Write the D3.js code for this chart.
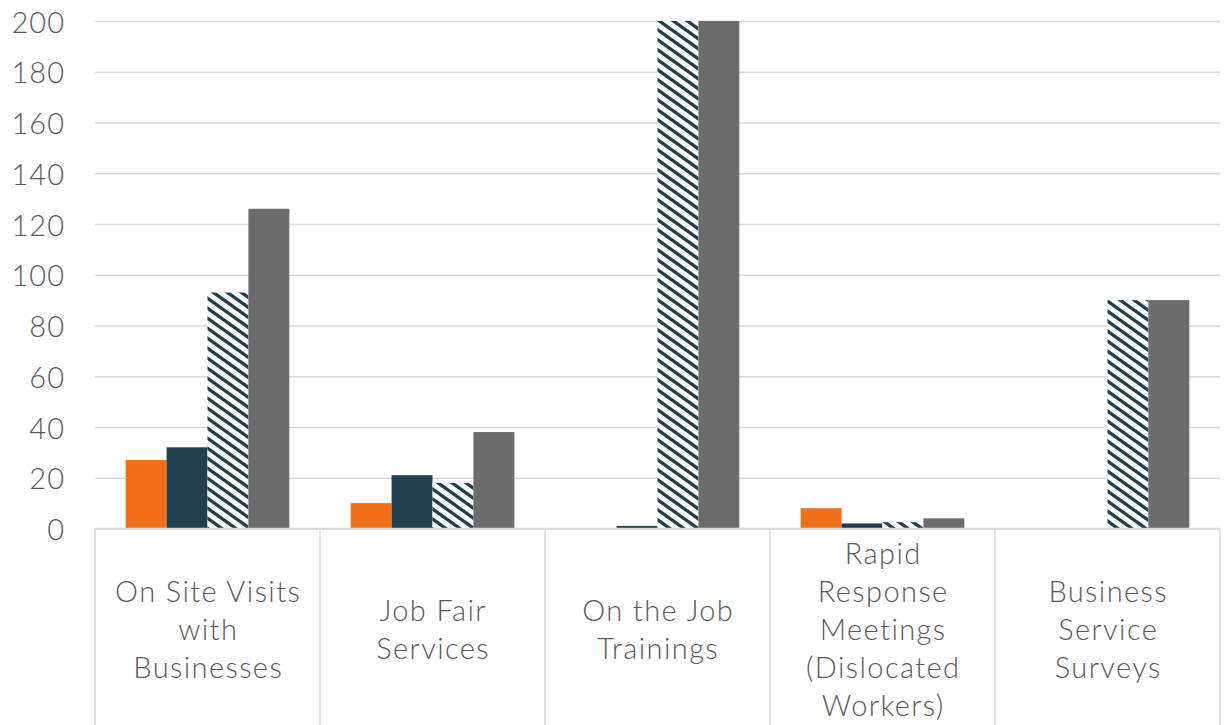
<!DOCTYPE html>
<html>
<head>
<meta charset="utf-8">
<script src="https://cdn.jsdelivr.net/npm/d3@7"></script>
<style>
  html, body { margin: 0; padding: 0; background: #fff; }
  svg { display: block; }
  text { font-family: "Lato", "Open Sans", sans-serif; font-weight: 300; fill: #595959; }
</style>
</head>
<body>
<svg id="chart" width="1226" height="725"></svg>
<script>
// Categories (label lines) and the four series
const categories = [
  ["On Site Visits", "with", "Businesses"],
  ["Job Fair", "Services"],
  ["On the Job", "Trainings"],
  ["Rapid", "Response", "Meetings", "(Dislocated", "Workers)"],
  ["Business", "Service", "Surveys"]
];
const seriesNames = ["s1", "s2", "s3", "s4"];
const seriesA = [27, 10, 0, 8, 0];
const seriesB = [32, 21, 1, 2, 0];
const seriesC = [93, 18, 200, 2.5, 90];
const seriesD = [126, 38, 200, 4, 90];
const yTicks = [0, 20, 40, 60, 80, 100, 120, 140, 160, 180, 200];

const series = [seriesA, seriesB, seriesC, seriesD];
const fills = ["#F07019", "#213F4C", "url(#hatch)", "#6C6C6C"];

const W = 1226, H = 725;
const plotL = 95, plotR = 1220, plotT = 21, plotB = 528.5;

const svg = d3.select("#chart");

// Diagonal stripe fill for the third series
const defs = svg.append("defs");
const pat = defs.append("pattern")
  .attr("id", "hatch")
  .attr("patternUnits", "userSpaceOnUse")
  .attr("width", 14).attr("height", 10);
pat.append("rect").attr("width", 14).attr("height", 10).attr("fill", "#fff");
[-10, 0, 10].forEach(dy => {
  pat.append("path")
    .attr("d", `M-14,${-10 + dy} L28,${20 + dy}`)
    .attr("stroke", "#213F4C")
    .attr("stroke-width", 3.4);
});

const catIdx = categories.map((d, i) => i);
const x = d3.scaleBand().domain(catIdx).range([plotL, plotR]).padding(0);
const xs = d3.scaleBand().domain(seriesNames).range([0, x.bandwidth()])
  .paddingInner(0).paddingOuter(0.75);
const y = d3.scaleLinear().domain([0, 200]).range([plotB, plotT]);

// Horizontal gridlines
const yAxis = d3.axisLeft(y).tickValues(yTicks).tickSize(-(plotR - plotL)).tickFormat("");
const gy = svg.append("g").attr("transform", `translate(${plotL},0)`).call(yAxis);
gy.select(".domain").remove();
gy.selectAll(".tick line").attr("stroke", "#D9D9D9").attr("stroke-width", 1.5);

// Y tick labels
svg.append("g").selectAll("text").data(yTicks).join("text")
  .attr("x", 65).attr("y", d => y(d))
  .attr("text-anchor", "end").attr("dominant-baseline", "central")
  .style("font-size", "29px").style("letter-spacing", "1px")
  .text(d => d);

// Bars
const clip = defs.append("clipPath").attr("id", "plotclip");
clip.append("rect").attr("x", plotL).attr("y", plotT).attr("width", plotR - plotL).attr("height", plotB - plotT);

const gBars = svg.append("g").attr("clip-path", "url(#plotclip)");
series.forEach((vals, si) => {
  gBars.append("g").selectAll("rect").data(vals).join("rect")
    .attr("x", (d, i) => x(i) + xs(seriesNames[si]))
    .attr("width", xs.bandwidth())
    .attr("y", d => y(d))
    .attr("height", d => plotB - y(d))
    .attr("fill", fills[si]);
});

// Baseline and category separators
svg.append("line").attr("x1", plotL).attr("x2", plotR).attr("y1", plotB).attr("y2", plotB)
  .attr("stroke", "#D9D9D9").attr("stroke-width", 1.5);
const seps = catIdx.map(i => x(i)).concat([plotR]);
svg.append("g").selectAll("line").data(seps).join("line")
  .attr("x1", d => d).attr("x2", d => d)
  .attr("y1", plotB).attr("y2", H)
  .attr("stroke", "#D9D9D9").attr("stroke-width", 1.5);

// Category labels
const lineH = 38, midY = 628;
const gLab = svg.append("g");
categories.forEach((lines, i) => {
  const cx = x(i) + x.bandwidth() / 2;
  const t = gLab.append("text").attr("text-anchor", "middle")
    .style("font-size", "29px").style("letter-spacing", "1.4px");
  lines.forEach((ln, j) => {
    t.append("tspan").attr("x", cx + 0.7)
      .attr("y", midY + (j - (lines.length - 1) / 2) * lineH)
      .attr("dominant-baseline", "central")
      .text(ln);
  });
});
</script>
</body>
</html>
